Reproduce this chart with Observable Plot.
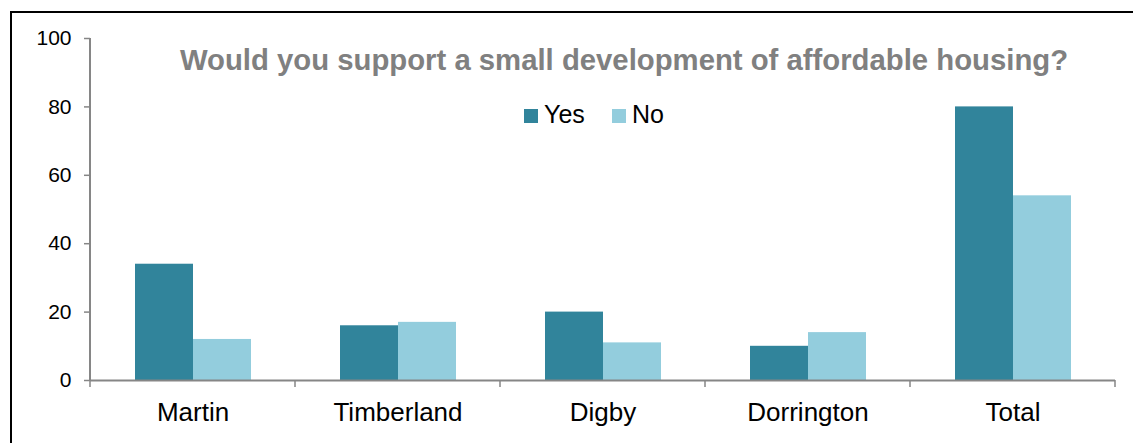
<!DOCTYPE html>
<html><head><meta charset="utf-8">
<script src="https://cdn.jsdelivr.net/npm/d3@7"></script>
<script src="https://cdn.jsdelivr.net/npm/@observablehq/plot@0.6"></script>
<style>
body{margin:0;background:#fff;font-family:Arial,"Liberation Sans",sans-serif}
#wrap{position:relative;width:1133px;height:443px;overflow:hidden}
#frame{position:absolute;left:10px;top:11px;width:1300px;height:600px;border-top:2px solid #000;border-left:2px solid #000;box-sizing:border-box}
#chart{position:absolute;left:0;top:0}
#title{position:absolute;left:0;width:1248px;text-align:center;top:45px;font-weight:bold;font-size:29.3px;line-height:1;color:#808080;white-space:nowrap}
.lg{position:absolute;font-size:25px;line-height:1;color:#000}
.sw{position:absolute;width:14px;height:14px}
</style>
</head><body>
<div id="wrap">
<div id="frame"></div>
<div id="chart"></div>
<div id="title"></div>
<div id="legend"></div>
</div>
<script>
const categories = ["Martin","Timberland","Digby","Dorrington","Total"];
const series = ["Yes","No"];
const yesValues = [34,16,20,10,80];
const noValues = [12,17,11,14,54];
const colors = ["#31849B","#93CDDD"];
const yTicks = [0,20,40,60,80,100];
const titleText = "Would you support a small development of affordable housing?";

const data = categories.flatMap((c,i)=>[
  {category:c, series:"Yes", value:yesValues[i]},
  {category:c, series:"No", value:noValues[i]}
]);

const plot = Plot.plot({
  width:1133, height:443,
  marginLeft:89, marginRight:17, marginTop:38, marginBottom:63,
  style:{fontFamily:"Arial, 'Liberation Sans', sans-serif", background:"transparent", overflow:"visible"},
  fx:{domain:categories, padding:0, label:null},
  x:{domain:series, paddingInner:0, paddingOuter:0.75, axis:null},
  y:{domain:[0,100], label:null},
  color:{domain:series, range:colors},
  marks:[
    Plot.barY(data,{fx:"category", x:"series", y:"value", fill:"series"}),
    Plot.ruleY([0],{stroke:"#868686", strokeWidth:2}),
    Plot.axisY({ticks:yTicks, tickSize:6, tickPadding:13, fontSize:21, stroke:"#868686", strokeWidth:1.5, fill:"#000", label:null}),
    Plot.axisFx({anchor:"bottom", tickSize:0, tickPadding:22, fontSize:26, fill:"#000", label:null})
  ]
});
document.getElementById("chart").appendChild(plot);

// axis line and category boundary ticks, placed with the plot's own scales
const fx = plot.scale("fx"), y = plot.scale("y");
const svg = d3.select(plot);
const edges = categories.map(c=>fx.apply(c)).concat([fx.apply(categories[categories.length-1]) + fx.bandwidth]);
svg.append("line")
  .attr("x1",edges[0]).attr("x2",edges[0])
  .attr("y1",y.apply(0)).attr("y2",y.apply(100))
  .attr("stroke","#868686").attr("stroke-width",2);
svg.selectAll("line.bt").data(edges).join("line").attr("class","bt")
  .attr("x1",d=>d).attr("x2",d=>d)
  .attr("y1",y.apply(0)).attr("y2",y.apply(0)+7)
  .attr("stroke","#868686").attr("stroke-width",1.5);

document.getElementById("title").textContent = titleText;

// legend (HTML), positioned in the plot area above the bars
const lg = document.getElementById("legend");
const lgX = [524, 612];
series.forEach((s,i)=>{
  const sw = document.createElement("div");
  sw.className="sw"; sw.style.left=lgX[i]+"px"; sw.style.top="109px"; sw.style.background=colors[i];
  lg.appendChild(sw);
  const t = document.createElement("div");
  t.className="lg"; t.style.left=(lgX[i]+20)+"px"; t.style.top="102px"; t.textContent=s;
  lg.appendChild(t);
});
</script>
</body></html>
